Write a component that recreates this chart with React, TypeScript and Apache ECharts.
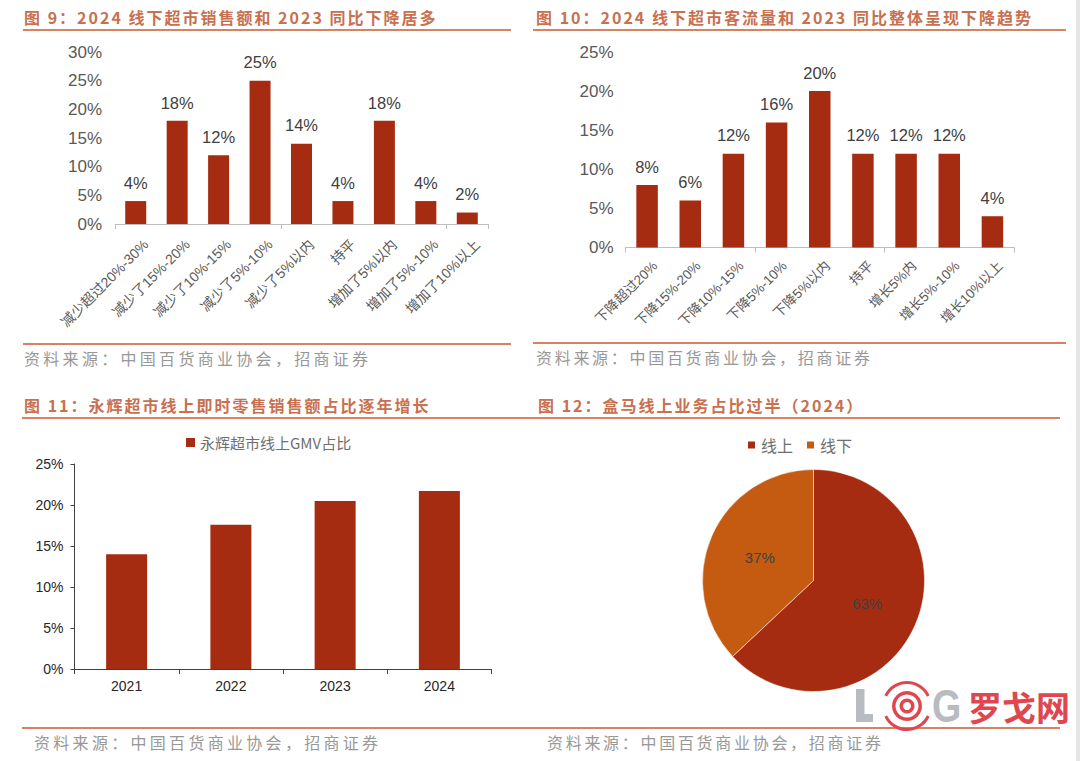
import React, { useEffect, useRef } from "react";
import * as echarts from "echarts";

// ---- data ----
const salesCategories = ["减少超过20%-30%", "减少了15%-20%", "减少了10%-15%", "减少了5%-10%", "减少了5%以内", "持平", "增加了5%以内", "增加了5%-10%", "增加了10%以上"];
const salesShare = [4, 18, 12, 25, 14, 4, 18, 4, 2];

const trafficCategories = ["下降超过20%", "下降15%-20%", "下降10%-15%", "下降5%-10%", "下降5%以内", "持平", "增长5%内", "增长5%-10%", "增长10%以上"];
const trafficShare = [8, 6, 12, 16, 20, 12, 12, 12, 4];

const gmvYears = ["2021", "2022", "2023", "2024"];
const gmvShare = [14, 17.6, 20.5, 21.7];
const gmvSeriesName = "永辉超市线上GMV占比";

const channelNames = ["线上", "线下"];
const channelShare = [63, 37];

const titles = [
  "图 9：2024 线下超市销售额和 2023 同比下降居多",
  "图 10：2024 线下超市客流量和 2023 同比整体呈现下降趋势",
  "图 11：永辉超市线上即时零售销售额占比逐年增长",
  "图 12：盒马线上业务占比过半（2024）",
];
const sourceText = "资料来源：中国百货商业协会，招商证券";

// ---- styles ----
const RED = "#A52C11";
const ORANGE = "#C55A11";
const TITLE_C = "#C8704F";
const RULE_C = "#D98262";
const LATIN = "'Liberation Sans', Arial, 'Noto Sans CJK SC', sans-serif";
const CJK = "'Noto Sans CJK SC', 'Liberation Sans', sans-serif";

export default function App() {
  const ref = useRef<HTMLDivElement>(null);

  useEffect(() => {
    document.body.style.margin = "0";
    const el = ref.current!;
    const chart = echarts.init(el, null, { renderer: "svg" });

    const pct = (v: any) => `${v}%`;

    const hiddenY = (gridIndex: number) => ({ type: "value", gridIndex, show: false, min: 0, max: 10 });

    const titleText = (x: number, y: number, text: string) => ({
      type: "text", x, y,
      style: { text, fill: TITLE_C, fontSize: 16, fontWeight: "bold", fontFamily: CJK, verticalAlign: "middle", align: "left" },
    });
    const sourceEl = (x: number, y: number) => ({
      type: "text", x, y,
      style: { text: sourceText, fill: "#989898", fontSize: 16, fontFamily: CJK, verticalAlign: "middle", align: "left" },
    });
    const rule = (x1: number, x2: number, y: number) => ({
      type: "line", shape: { x1, y1: y, x2, y2: y }, style: { stroke: RULE_C, lineWidth: 2 },
    });

    const option: any = {
      animation: false,
      backgroundColor: "#ffffff",
      grid: [
        { left: 115, top: 52, width: 373, height: 172, outerBoundsMode: "none" },
        { left: 625.5, top: 52, width: 388.5, height: 195.5, outerBoundsMode: "none" },
        { left: 74.5, top: 464, width: 417, height: 205, outerBoundsMode: "none" },
        { left: 125, top: 52, width: 373, height: 172, outerBoundsMode: "none" },
        { left: 633.5, top: 52, width: 388.5, height: 195.5, outerBoundsMode: "none" },
      ],
      xAxis: [
        {
          type: "category", gridIndex: 0, data: salesCategories,
          axisLine: { lineStyle: { color: "#BFBFBF", width: 1 } },
          axisTick: { show: true, length: 5, lineStyle: { color: "#BFBFBF" } },
          axisLabel: { show: false },
        },
        {
          type: "category", gridIndex: 1, data: trafficCategories,
          axisLine: { lineStyle: { color: "#BFBFBF", width: 1 } },
          axisTick: { show: true, length: 5, lineStyle: { color: "#BFBFBF" } },
          axisLabel: { show: false },
        },
        {
          type: "category", gridIndex: 2, data: gmvYears,
          axisLine: { lineStyle: { color: "#404040", width: 1 } },
          axisTick: { show: true, length: 5, lineStyle: { color: "#404040" } },
          axisLabel: { interval: 0, margin: 10, fontSize: 14, color: "#262626", fontFamily: LATIN },
        },
        {
          type: "category", gridIndex: 3, data: salesCategories,
          axisLine: { show: false }, axisTick: { show: false },
          axisLabel: { interval: 0, rotate: 45, margin: 18, fontSize: 14, color: "#595959", fontFamily: LATIN },
        },
        {
          type: "category", gridIndex: 4, data: trafficCategories,
          axisLine: { show: false }, axisTick: { show: false },
          axisLabel: { interval: 0, rotate: 45, margin: 16, fontSize: 13.5, color: "#595959", fontFamily: LATIN },
        },
      ],
      yAxis: [
        {
          type: "value", gridIndex: 0, min: 0, max: 30, interval: 5,
          axisLine: { show: false }, axisTick: { show: false }, splitLine: { show: false },
          axisLabel: { formatter: pct, margin: 13, fontSize: 17, color: "#595959", fontFamily: LATIN },
        },
        {
          type: "value", gridIndex: 1, min: 0, max: 25, interval: 5,
          axisLine: { show: false }, axisTick: { show: false }, splitLine: { show: false },
          axisLabel: { formatter: pct, margin: 12, fontSize: 17, color: "#595959", fontFamily: LATIN },
        },
        {
          type: "value", gridIndex: 2, min: 0, max: 25, interval: 5,
          axisLine: { show: true, lineStyle: { color: "#404040", width: 1 } },
          axisTick: { show: true, length: 4, lineStyle: { color: "#404040" } },
          splitLine: { show: false },
          axisLabel: { formatter: pct, margin: 11, fontSize: 14, color: "#262626", fontFamily: LATIN },
        },
        hiddenY(3),
        hiddenY(4),
      ],
      legend: [
        {
          data: [gmvSeriesName], left: 181, top: 430, itemWidth: 9, itemHeight: 9, icon: "rect",
          textStyle: { fontSize: 15, color: "#6f6f6f", fontFamily: CJK }, selectedMode: false,
        },
        {
          data: channelNames, left: 741, top: 432, itemWidth: 9, itemHeight: 9, itemGap: 12, icon: "rect",
          textStyle: { fontSize: 16, color: "#6f6f6f", fontFamily: CJK }, selectedMode: false,
        },
      ],
      series: [
        {
          type: "bar", name: "销售额同比", xAxisIndex: 0, yAxisIndex: 0, data: salesShare, barWidth: 21,
          itemStyle: { color: RED },
          label: { show: true, position: "top", distance: 10, formatter: (p: any) => `${p.value}%`, fontSize: 16.5, color: "#404040", fontFamily: LATIN },
        },
        {
          type: "bar", name: "客流量同比", xAxisIndex: 1, yAxisIndex: 1, data: trafficShare, barWidth: 21.5,
          itemStyle: { color: RED },
          label: { show: true, position: "top", distance: 10, formatter: (p: any) => `${p.value}%`, fontSize: 16.5, color: "#404040", fontFamily: LATIN },
        },
        {
          type: "bar", name: gmvSeriesName, xAxisIndex: 2, yAxisIndex: 2, data: gmvShare, barWidth: 41,
          itemStyle: { color: RED },
        },
        {
          type: "pie", name: "盒马", center: [813.5, 580.5], radius: 111, startAngle: 90, clockwise: true,
          data: channelNames.map((n, i) => ({ name: n, value: channelShare[i], itemStyle: { color: i === 0 ? RED : ORANGE } })),
          itemStyle: { borderColor: "#ffffff", borderWidth: 0.5 },
          label: { show: true, position: "inner", formatter: (p: any) => `${p.value}%`, fontSize: 15, color: "#404040", fontFamily: LATIN },
          labelLine: { show: false },
          emphasis: { disabled: true },
        },
      ],
      graphic: [
        titleText(24, 17, titles[0]),
        titleText(536, 17, titles[1]),
        titleText(24, 405, titles[2]),
        titleText(538, 405, titles[3]),
        rule(23, 511, 30),
        rule(533, 1066, 30),
        rule(22, 1060, 418),
        rule(23, 511, 344),
        rule(533, 1066, 343),
        rule(22, 1060, 728),
        sourceEl(24, 358),
        sourceEl(536, 357),
        sourceEl(34, 742),
        sourceEl(547, 742),
        { type: "rect", shape: { x: 1076, y: 0, width: 4, height: 761 }, style: { fill: "#E6E6E6" } },
        // watermark
        { type: "rect", z: 100, shape: { x: 856, y: 689, width: 8.5, height: 33 }, style: { fill: "#B8BBBF" } },
        { type: "rect", z: 100, shape: { x: 856, y: 714, width: 17, height: 8 }, style: { fill: "#B8BBBF" } },
        { type: "ring", z: 100, shape: { cx: 907, cy: 706, r: 7.5, r0: 4 }, style: { fill: "#E0464F" } },
        { type: "ring", z: 100, shape: { cx: 907, cy: 706, r: 15, r0: 11.5 }, style: { fill: "#E0464F" } },
        { type: "arc", z: 100, shape: { cx: 907, cy: 706, r: 23.5, startAngle: -2.7, endAngle: -0.44, clockwise: true }, style: { stroke: "#E0464F", lineWidth: 3, fill: "none" } },
        { type: "arc", z: 100, shape: { cx: 907, cy: 706, r: 23.5, startAngle: 0.44, endAngle: 2.7, clockwise: true }, style: { stroke: "#E0464F", lineWidth: 3, fill: "none" } },
        { type: "text", z: 100, x: 932, y: 706, scaleX: 0.82, style: { text: "G", fill: "#B8BBBF", fontSize: 46, fontWeight: "bold", fontFamily: LATIN, verticalAlign: "middle", align: "left" } },
        { type: "text", z: 100, x: 968, y: 706, style: { text: "罗戈网", fill: "#E0464F", fontSize: 34, fontWeight: "bold", fontFamily: CJK, verticalAlign: "middle", align: "left" } },
      ],
    };

    // spacing of the report-style titles and source notes (left panels a bit wider than right ones)
    const sourceSpacing = ["3.3", "2.7", "3.3", "2.7"];
    const applySpacing = () => {
      let k = 0;
      el.querySelectorAll("text").forEach((t) => {
        const s = t.textContent || "";
        if (s.startsWith("图 ")) t.setAttribute("letter-spacing", "2");
        else if (s.startsWith("资料来源")) {
          t.setAttribute("letter-spacing", sourceSpacing[k % 4]);
          k += 1;
        }
      });
    };

    chart.setOption(option);
    applySpacing();
    chart.on("finished", applySpacing);
    const timer = setTimeout(applySpacing, 50);

    return () => {
      clearTimeout(timer);
      chart.dispose();
    };
  }, []);

  return <div ref={ref} style={{ position: "absolute", left: 0, top: 0, width: 1080, height: 761 }} />;
}
